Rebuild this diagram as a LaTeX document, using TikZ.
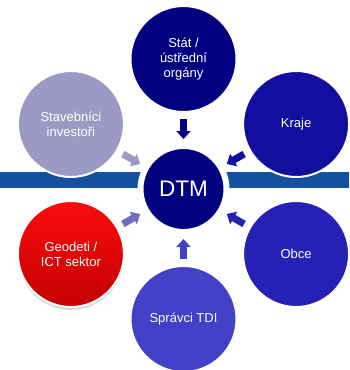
\documentclass[tikz,border=0pt]{standalone}
\usepackage{fontspec}
\setmainfont{Liberation Sans}
\usetikzlibrary{arrows.meta, calc, positioning, shadows}

\definecolor{pasmo}{RGB}{20,80,160}
\definecolor{stredbarva}{RGB}{0,0,128}
\definecolor{statbarva}{RGB}{0,0,128}
\definecolor{krajbarva}{RGB}{17,14,160}
\definecolor{obecbarva}{RGB}{38,33,181}
\definecolor{spravbarva}{RGB}{66,64,198}
\definecolor{geodsipka}{RGB}{110,110,192}
\definecolor{stavbarva}{RGB}{156,153,196}

\begin{document}
\begin{tikzpicture}[x=1pt, y=1pt,
		                    kruh/.style={circle, draw=white, line width=2pt, minimum size=106pt, inner sep=0pt, outer sep=0pt,
		                    	align=center, text=white, font=\fontsize{13}{15}\selectfont},
		                    sipka/.style={line width=7pt, -{Triangle[width=14pt, length=8pt]}, shorten <=7pt, shorten >=7pt}]
		  \useasboundingbox (-183.5,-181) rectangle (165.5,189);
		  % modry pruh za stredem
		  \fill[pasmo] (-183.5,1) rectangle (165.5,17);
		  
		  \node[circle, draw=white, line width=6pt, fill=stredbarva, minimum size=86pt, inner sep=0pt, outer sep=0pt,
		  	text=white, font=\fontsize{22.5}{26}\selectfont] (dtm) at (0,0) {DTM};
		  \node[kruh, fill=statbarva]  (stat)       at (90:130pt)   {Stát /\\ústřední\\orgány};
		  \node[kruh, fill=krajbarva]  (kraje)      at (30:130pt)   {Kraje};
		  \node[kruh, fill=obecbarva]  (obce)       at (-30:130pt)  {Obce};
		  \node[kruh, fill=spravbarva] (spravci)    at (-90:130pt)  {Správci TDI};
		  \node[kruh, top color={rgb,255:red,250;green,12;blue,12}, bottom color={rgb,255:red,196;green,0;blue,0},
		  	drop shadow={shadow xshift=0pt, shadow yshift=-3pt, opacity=0.3}] (geodeti) at (-150:130pt) {Geodeti /\\ICT sektor};
		  \node[kruh, fill=stavbarva]  (stavebnici) at (150:130pt)  {Stavebníci\\investoři};
		  
		  \path[sipka]
		  	(stat)			edge[statbarva]		(dtm)
		  	(kraje)			edge[krajbarva]		(dtm)
		  	(obce)			edge[obecbarva]		(dtm)
		  	(spravci)		edge[spravbarva]	(dtm)
		  	(geodeti)		edge[geodsipka]		(dtm)
		  	(stavebnici)	edge[stavbarva]		(dtm);
		\end{tikzpicture}
\end{document}
